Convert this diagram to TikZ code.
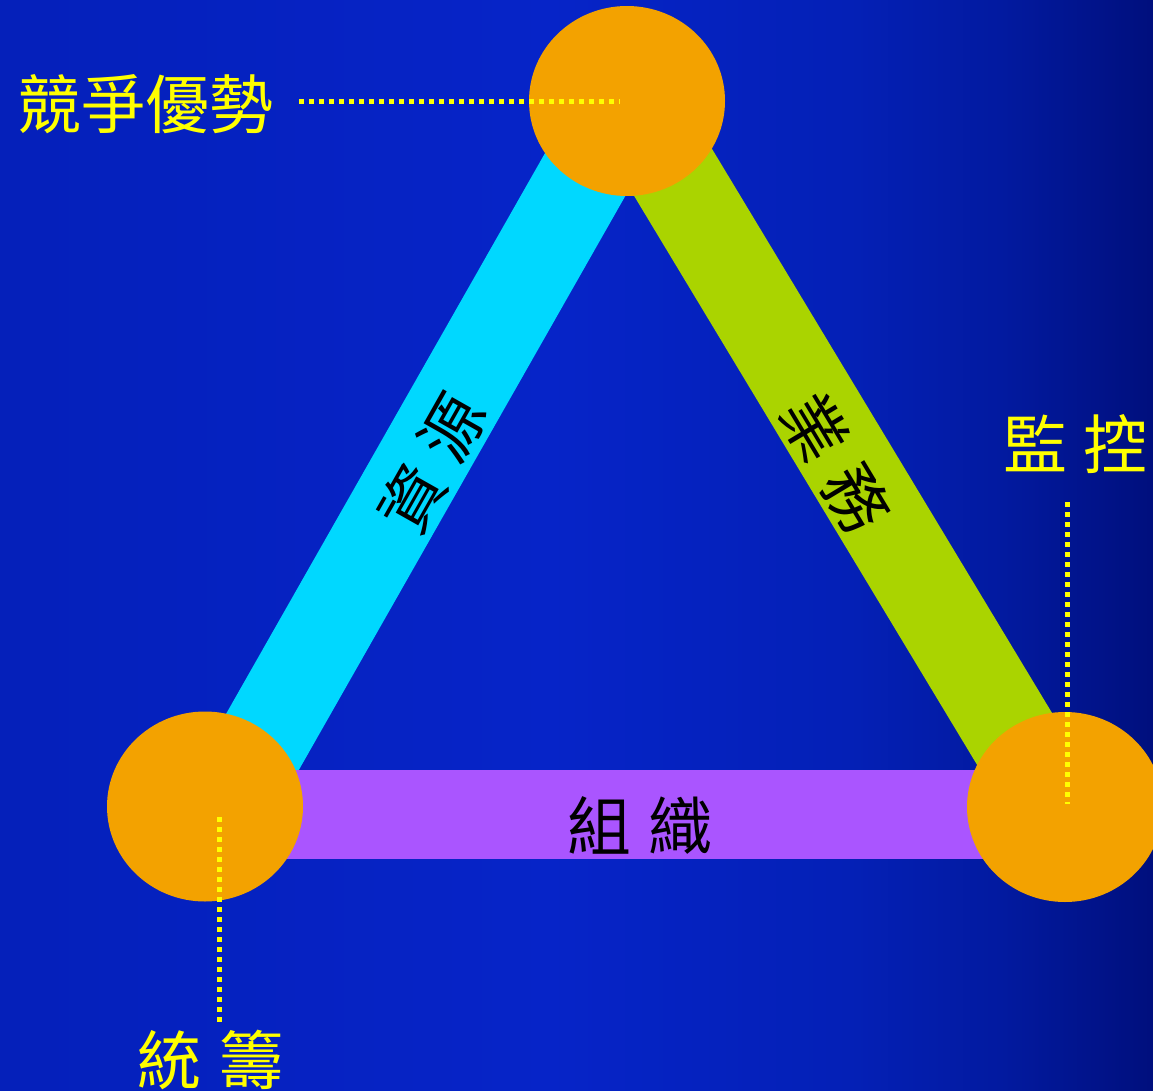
\documentclass[tikz,border=0pt]{standalone}
\usepackage{fontspec}
\newfontfamily\cjk{Noto Sans CJK TC}
\usetikzlibrary{shapes.geometric}
\definecolor{bgA}{RGB}{5,32,186}
\definecolor{bgB}{RGB}{6,36,200}
\definecolor{bgC}{RGB}{4,32,182}
\definecolor{bgD}{RGB}{2,26,160}
\definecolor{bgE}{RGB}{0,15,125}
\definecolor{orangeC}{RGB}{243,162,0}
\definecolor{cyanC}{RGB}{0,216,255}
\definecolor{greenC}{RGB}{170,212,0}
\definecolor{purpleC}{RGB}{170,85,255}
\definecolor{yellowC}{RGB}{255,255,0}
\pgfdeclarehorizontalshading{bgshade}{100bp}{color(0bp)=(bgA); color(25bp)=(bgA); color(48.85bp)=(bgB); color(61.86bp)=(bgC); color(68.37bp)=(bgD); color(75bp)=(bgE); color(100bp)=(bgE)}
\tikzset{
  band/.style={line width=#1, line cap=butt},
  disc/.style={ellipse, fill=orangeC, minimum width=196pt, minimum height=190pt, inner sep=0pt},
  ylab/.style={text=yellowC, inner sep=0pt, font=\cjk\fontsize{64pt}{70pt}\selectfont},
  blab/.style={text=black, inner sep=0pt, font=\cjk\fontsize{64pt}{70pt}\selectfont},
  dots/.style={draw=yellowC, line width=5pt, dash pattern=on 5pt off 5pt, line cap=butt}
}
\begin{document}
\begin{tikzpicture}[x=1pt, y=-1pt]
\useasboundingbox (0,0) rectangle (1153,1091);
\shade[shading=bgshade] (0,0) rectangle (1153,1091);
% band end points
\coordinate (cyT) at (627,101);
\coordinate (cyB) at (226,806);
\coordinate (grT) at (630,101);
\coordinate (grB) at (1055,806);
\coordinate (puL) at (205,814.5);
\coordinate (puR) at (1065,814.5);
% bands
\draw[band=91pt, draw=cyanC] (cyT) -- (cyB);
\draw[band=91pt, draw=greenC] (grT) -- (grB);
\draw[band=89pt, draw=purpleC] (puL) -- (puR);
% discs
\node[disc] (top) at (627,101) {};
\node[disc] (bl) at (205,806.5) {};
\node[disc] (br) at (1065,807) {};
% band labels
\node[blab, rotate=60.5] (res) at (432,463) {資\hspace{18pt}源};
\node[blab, rotate=-59] (biz) at (836,463) {業\hspace{18pt}務};
\node[blab] (org) at (640,825) {組\hspace{18pt}織};
% outer labels
\node[ylab] (comp) at (145.5,104.5) {競爭優勢};
\node[ylab] (mon) at (1075.5,444) {監\hspace{17pt}控};
\node[ylab] (coord) at (210.5,1060) {統\hspace{18pt}籌};
% dotted leaders
\coordinate (d1a) at (299,101.5);
\coordinate (d1b) at (620,101.5);
\coordinate (d2a) at (1067,502);
\coordinate (d2b) at (1067,804);
\coordinate (d3a) at (219,817);
\coordinate (d3b) at (219,1026);
\draw[dots] (d1a) -- (d1b);
\draw[dots] (d2a) -- (d2b);
\draw[dots] (d3a) -- (d3b);
\end{tikzpicture}
\end{document}
